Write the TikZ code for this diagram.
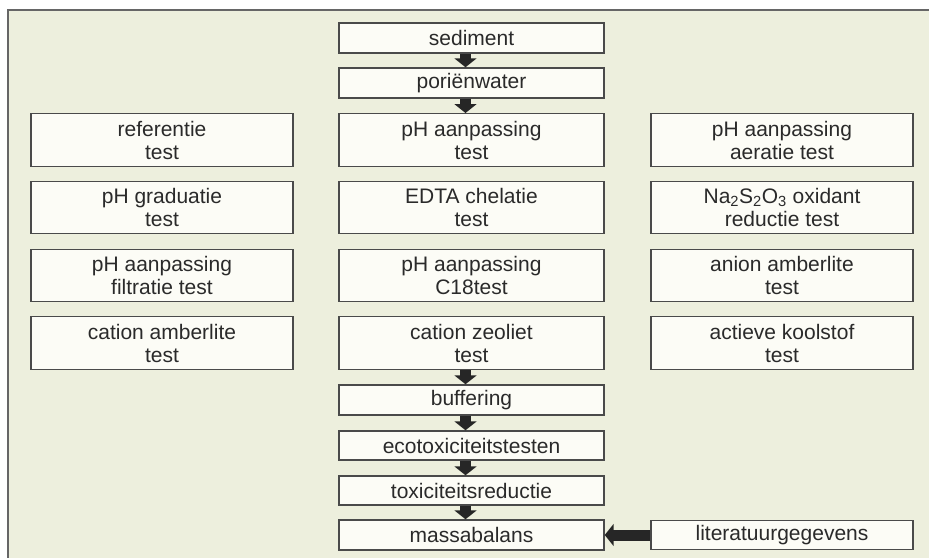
\documentclass[tikz,border=0pt]{standalone}
\usepackage{fontspec}
\setsansfont{Liberation Sans}
\usetikzlibrary{arrows.meta,positioning}
\definecolor{paper}{RGB}{237,239,221}
\definecolor{boxfill}{RGB}{252,252,246}
\definecolor{ink}{RGB}{42,42,42}
\begin{document}
\begin{tikzpicture}[x=1pt,y=-1pt,font=\sffamily\fontsize{21pt}{23pt}\selectfont,text=ink,
  box/.style={draw=ink!85,line width=1.4pt,fill=boxfill,minimum width=265pt,minimum height=30pt,inner sep=0pt,align=center},
  testbox/.style={box,minimum width=262pt,minimum height=52.5pt},
  flow/.style={draw=black!85,line width=11pt,-{Triangle[width=22pt,length=9pt]}}]
\useasboundingbox (0,0) rectangle (929,557);
\fill[white] (0,0) rectangle (929,557);
\fill[paper] (8,10) rectangle (940,570);
\draw[line width=2pt,black!60] (940,10) -- (8,10) -- (8,570);
% middle column
\node[box] (sed) at (471.5,38) {sediment};
\node[box] (por) at (471.5,83) {poriënwater};
\node[testbox,minimum width=265pt] (phaan) at (471.5,140) {pH aanpassing\\test};
\node[testbox,minimum width=265pt] (edta) at (471.5,207.5) {EDTA chelatie\\test};
\node[testbox,minimum width=265pt] (cachtien) at (471.5,275.5) {pH aanpassing\\C18test};
\node[testbox,minimum width=265pt] (zeo) at (471.5,343) {cation zeoliet\\test};
\node[box] (buf) at (471.5,400) {buffering};
\node[box,minimum height=29pt] (eco) at (471.5,445.5) {ecotoxiciteitstesten};
\node[box,minimum height=29pt] (tox) at (471.5,490.5) {toxiciteitsreductie};
\node[box] (massa) at (471.5,535) {massabalans};
% left column
\node[testbox] (ref) at (162,140) {referentie\\test};
\node[testbox] (grad) at (162,207.5) {pH graduatie\\test};
\node[testbox] (filt) at (162,275.5) {pH aanpassing\\filtratie test};
\node[testbox] (caamb) at (162,343) {cation amberlite\\test};
% right column
\node[testbox] (aer) at (782,140) {pH aanpassing\\aeratie test};
\node[testbox] (thio) at (782,207.5) {Na\textsubscript{2}S\textsubscript{2}O\textsubscript{3} oxidant\\reductie test};
\node[testbox] (anamb) at (782,275.5) {anion amberlite\\test};
\node[testbox] (kool) at (782,343) {actieve koolstof\\test};
\node[box,minimum width=262pt,minimum height=29pt] (lit) at (782,535) {literatuurgegevens};
% arrows
\draw[flow] ([xshift=-6pt]sed.south) -- ([xshift=-6pt]por.north);
\draw[flow] ([xshift=-6pt]por.south) -- ([xshift=-6pt]phaan.north);
\draw[flow] ([xshift=-6pt]zeo.south) -- ([xshift=-6pt]buf.north);
\draw[flow] ([xshift=-6pt]buf.south) -- ([xshift=-6pt]eco.north);
\draw[flow] ([xshift=-6pt]eco.south) -- ([xshift=-6pt]tox.north);
\draw[flow] ([xshift=-6pt]tox.south) -- ([xshift=-6pt]massa.north);
\draw[flow] (lit.west) -- (massa.east);
\end{tikzpicture}
\end{document}
